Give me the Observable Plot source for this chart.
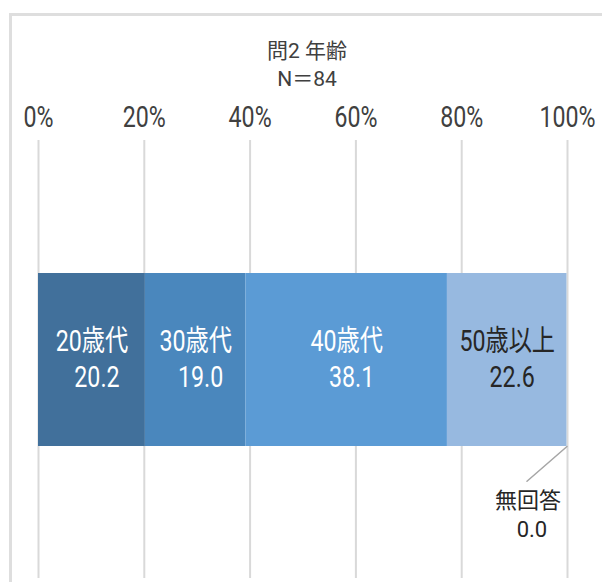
<!DOCTYPE html>
<html>
<head>
<meta charset="utf-8">
<script src="https://cdn.jsdelivr.net/npm/d3@7"></script>
<script src="https://cdn.jsdelivr.net/npm/@observablehq/plot@0.6"></script>
<style>
  html, body { margin: 0; padding: 0; background: #fff; }
  #wrap { position: relative; width: 602px; height: 582px; overflow: hidden; }
  #border {
    position: absolute; left: 9px; top: 13px; width: 700px; height: 700px;
    border-left: 3px solid #dedede; border-top: 3px solid #dedede; box-sizing: border-box;
  }
  #chart { position: absolute; left: 0; top: 0; }
</style>
</head>
<body>
<div id="wrap"><div id="border"></div><div id="chart"></div></div>
<script>
// Survey question 2: respondent age (percent of N)
const title = "問2 年齢";
const sampleSize = 84;
const categories = ["20歳代", "30歳代", "40歳代", "50歳以上", "無回答"];
const values = [20.2, 19.0, 38.1, 22.6, 0.0];
const tickValues = [0, 20, 40, 60, 80, 100];

// palette, one per category
const palette = ["#41709b", "#4a87bd", "#5b9bd5", "#97b9e0", "#c5d7ee"];
const darkLabelCategories = ["50歳以上"];

const FONT = 'Roboto, "Noto Sans CJK JP", sans-serif';
const BIG = 29;          // bar labels and tick labels
const NARROW = 0.8;      // horizontal squeeze for the big labels
const barTop = 273, barBottom = 446;
const halfBar = (barBottom - barTop) / 2;

// cumulative extents of each segment
const ends = d3.cumsum(values);
const rows = categories.map((c, i) => ({
  row: title,
  category: c,
  value: values[i],
  x1: ends[i] - values[i],
  x2: ends[i],
  mid: ends[i] - values[i] / 2
}));
const inside = rows.filter(d => d.value > 0);
const notes = rows.filter(d => d.value === 0);
const fmt = d3.format(".1f");

function segmentLabels(data, fill) {
  return [
    Plot.text(data, {x: "mid", y: "row", text: "category", fill, dy: -18, fontSize: BIG}),
    Plot.text(data, {x: "mid", y: "row", text: d => fmt(d.value), fill, dy: 18, dx: 5, fontSize: BIG})
  ];
}

const chart = Plot.plot({
  width: 602,
  height: 582,
  marginTop: 140,
  marginBottom: 4,
  marginLeft: 38,
  marginRight: 35,
  style: {fontFamily: FONT, background: "transparent", color: "#404040"},
  x: {domain: [0, 100], axis: "top", ticks: tickValues, tickFormat: d => d + "%", tickSize: 0, tickPadding: 14, label: null},
  y: {domain: [title], range: [barTop, barBottom], padding: 0, axis: null},
  color: {domain: categories, range: palette},
  marks: [
    Plot.ruleX(tickValues, {stroke: "#d9d9d9", strokeWidth: 2}),
    Plot.barX(rows, {x1: "x1", x2: "x2", y: "row", fill: "category"}),
    ...segmentLabels(inside.filter(d => !darkLabelCategories.includes(d.category)), "#ffffff"),
    ...segmentLabels(inside.filter(d => darkLabelCategories.includes(d.category)), "#262626"),
    // leader line and label for the empty segment
    Plot.vector(notes, {
      x: "x2", y: "row", dy: halfBar, anchor: "start", length: 53, rotate: 229,
      stroke: "#a6a6a6", strokeWidth: 1.5,
      shape: {draw(context, l) { context.moveTo(0, 0); context.lineTo(0, -l); }}
    }),
    Plot.text(notes, {x: "x2", y: "row", text: "category", dx: -39, dy: halfBar + 54, fontSize: 22, fill: "#262626"}),
    Plot.text(notes, {x: "x2", y: "row", text: d => fmt(d.value), dx: -35, dy: halfBar + 83, fontSize: 22, fill: "#262626"}),
    // title block
    Plot.text([title], {frameAnchor: "top", text: d => d, dx: 4, dy: -97, fontSize: 21, fill: "#404040"}),
    Plot.text([`N＝${sampleSize}`], {frameAnchor: "top", text: d => d, dx: 4, dy: -69, fontSize: 21, fill: "#404040"})
  ]
});

// squeeze a text element horizontally about its anchor
function squeeze(el) {
  const t = el.getAttribute("transform");
  el.setAttribute("transform", (t ? t + " " : "") + `scale(${NARROW},1)`);
}
const svg = d3.select(chart);
// x-axis tick labels
svg.selectAll('g[aria-label^="x-axis"] text')
  .attr("font-size", BIG)
  .each(function() { squeeze(this); });
// bar labels
svg.selectAll('g[aria-label="text"]')
  .filter(function() { return +this.getAttribute("font-size") === BIG; })
  .selectAll("text")
  .each(function() { squeeze(this); });

document.getElementById("chart").appendChild(chart);
</script>
</body>
</html>
